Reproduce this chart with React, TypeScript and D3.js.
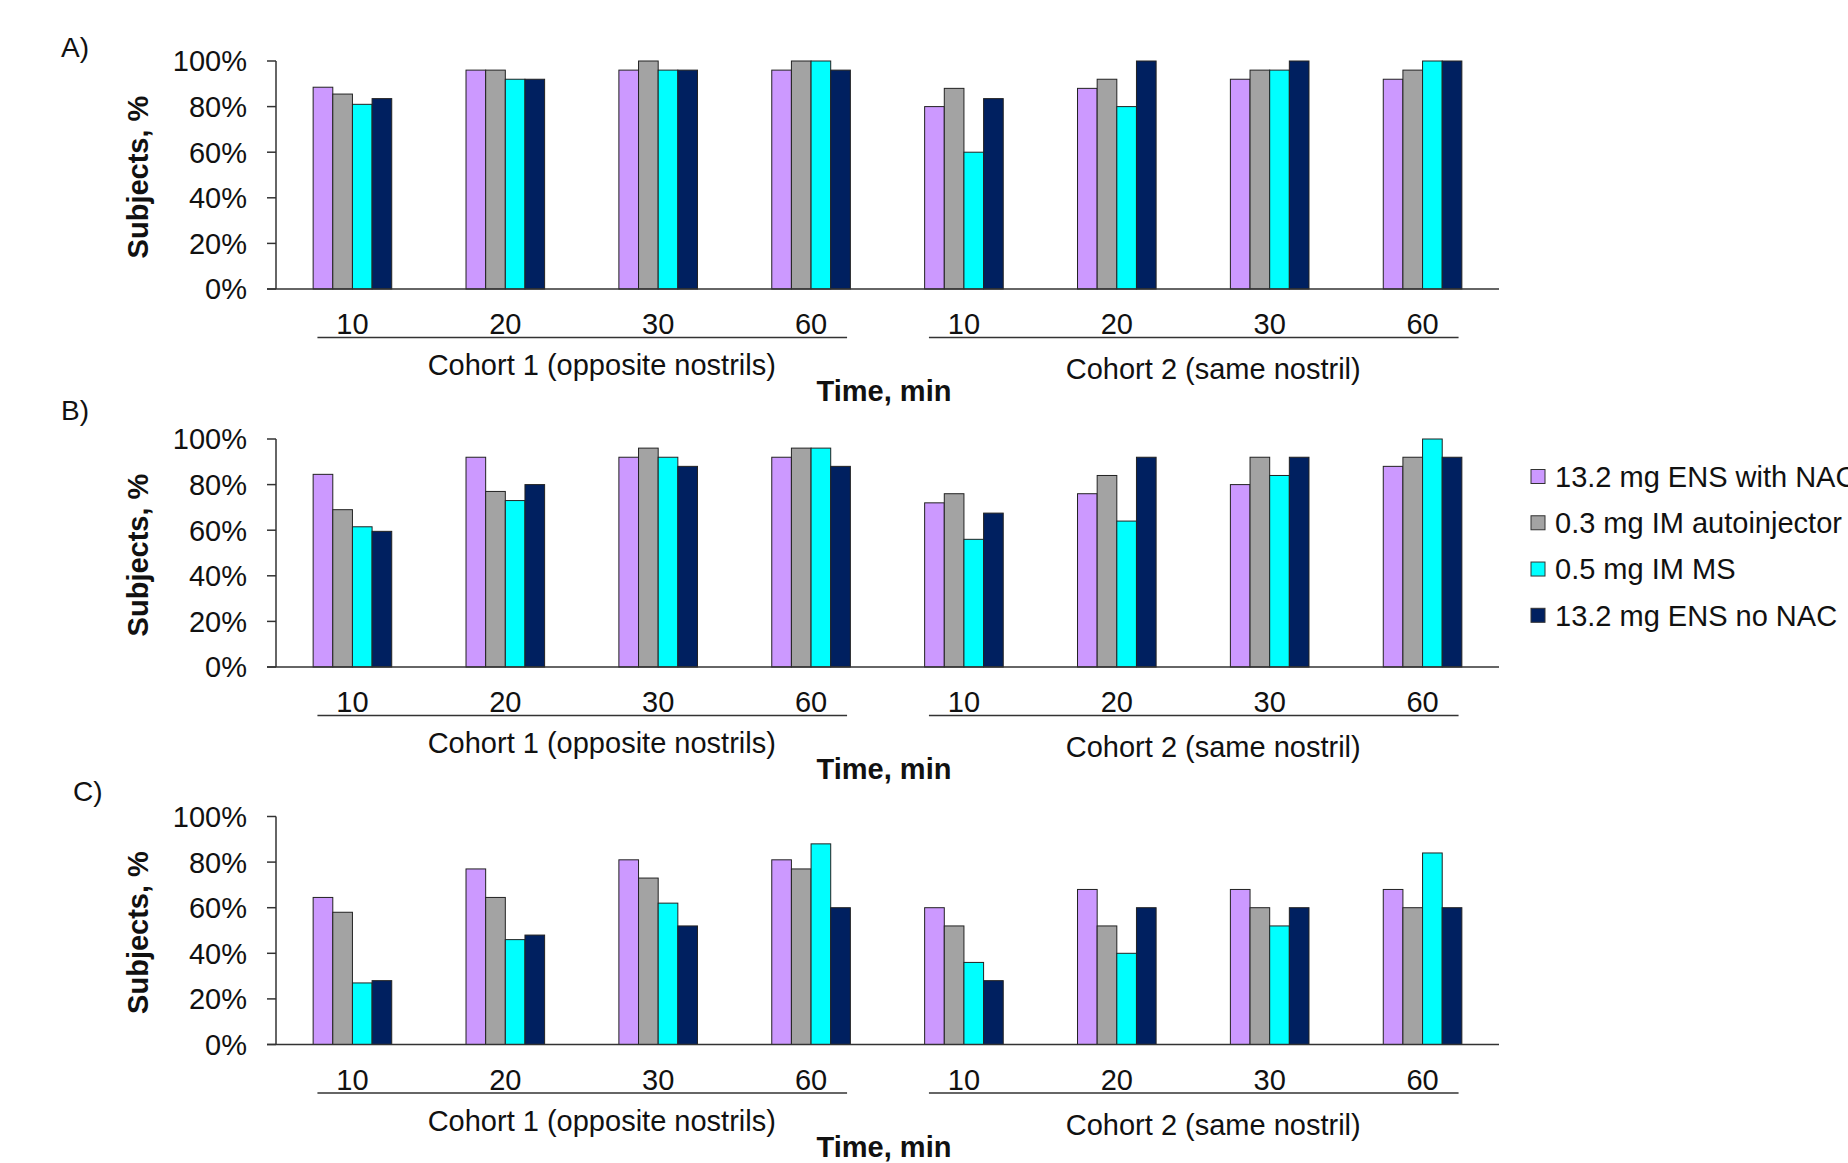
import * as d3 from "d3";

const times = ["10", "20", "30", "60"];
const cohorts = ["Cohort 1 (opposite nostrils)", "Cohort 2 (same nostril)"];
const seriesNames = [
  "13.2 mg ENS with NAC",
  "0.3 mg IM autoinjector",
  "0.5 mg IM MS",
  "13.2 mg ENS no NAC",
];
const seriesColors = ["#cc99ff", "#a3a3a3", "#00ffff", "#002060"];
const yTicks = [0, 20, 40, 60, 80, 100];
const panelLabels = ["A)", "B)", "C)"];

// values per series, 8 time points (cohort 1: 10,20,30,60 then cohort 2)
const panelA = [
  [88.5, 96, 96, 96, 80, 88, 92, 92],
  [85.5, 96, 100, 100, 88, 92, 96, 96],
  [81, 92, 96, 100, 60, 80, 96, 100],
  [83.5, 92, 96, 96, 83.5, 100, 100, 100],
];
const panelB = [
  [84.5, 92, 92, 92, 72, 76, 80, 88],
  [69, 77, 96, 96, 76, 84, 92, 92],
  [61.5, 73, 92, 96, 56, 64, 84, 100],
  [59.5, 80, 88, 88, 67.5, 92, 92, 92],
];
const panelC = [
  [64.5, 77, 81, 81, 60, 68, 68, 68],
  [58, 64.5, 73, 77, 52, 52, 60, 60],
  [27, 46, 62, 88, 36, 40, 52, 84],
  [28, 48, 52, 60, 28, 60, 60, 60],
];
const panels = [panelA, panelB, panelC];

const W = 1848;
const H = 1163;
const FONT = "'Liberation Sans', Arial, Helvetica, sans-serif";
const TEXT = "#111";
const AXIS = "#333";

const baselines = [289, 667, 1044.5];
const labelPos = [
  { x: 61, y: 57 },
  { x: 61, y: 420 },
  { x: 73, y: 801 },
];
const plotLeft = 276;
const plotRight = 1499;
const plotHeight = 228;
const groupWidth = 78.6;

const categories = cohorts.flatMap((c, ci) => times.map((t) => `${ci}-${t}`));

const x = d3.scaleBand<string>().domain(categories).range([plotLeft, plotRight]).padding(0);
const xSub = d3
  .scaleBand<string>()
  .domain(seriesNames)
  .range([-groupWidth / 2, groupWidth / 2])
  .padding(0);

const center = (cat: string) => (x(cat) ?? 0) + x.bandwidth() / 2;

const Panel = ({ data, y0, idx }: { data: number[][]; y0: number; idx: number }) => {
  const y = d3.scaleLinear().domain([0, 100]).range([y0, y0 - plotHeight]);
  return (
    <g>
      <text
        x={labelPos[idx].x}
        y={labelPos[idx].y}
        fontSize={28}
        fill={TEXT}
        fontFamily={FONT}
      >
        {panelLabels[idx]}
      </text>

      {/* y axis */}
      <line x1={plotLeft} x2={plotLeft} y1={y(100)} y2={y(0)} stroke={AXIS} strokeWidth={1.5} />
      {yTicks.map((t) => (
        <g key={t}>
          <line x1={plotLeft - 9} x2={plotLeft} y1={y(t)} y2={y(t)} stroke={AXIS} strokeWidth={1.5} />
          <text
            x={247}
            y={y(t)}
            dy="0.36em"
            textAnchor="end"
            fontSize={29}
            fill={TEXT}
            fontFamily={FONT}
          >
            {t}%
          </text>
        </g>
      ))}
      <text
        transform={`translate(138, ${y(50) + 2}) rotate(-90)`}
        textAnchor="middle"
        dominantBaseline="central"
        fontSize={29}
        fontWeight="bold"
        fill={TEXT}
        fontFamily={FONT}
      >
        Subjects, %
      </text>

      {/* bars */}
      {seriesNames.map((s, si) =>
        categories.map((cat, ci) => (
          <rect
            key={`${s}-${cat}`}
            x={center(cat) + (xSub(s) ?? 0)}
            y={y(data[si][ci])}
            width={xSub.bandwidth()}
            height={y(0) - y(data[si][ci])}
            fill={seriesColors[si]}
            stroke="#222"
            strokeWidth={1}
          />
        ))
      )}

      {/* x axis */}
      <line x1={plotLeft - 9} x2={plotRight} y1={y0} y2={y0} stroke={AXIS} strokeWidth={1.5} />
      {categories.map((cat, ci) => (
        <text
          key={cat}
          x={center(cat)}
          y={y0 + 35}
          dy="0.36em"
          textAnchor="middle"
          fontSize={29}
          fill={TEXT}
          fontFamily={FONT}
        >
          {times[ci % times.length]}
        </text>
      ))}
      {cohorts.map((c, k) => {
        const first = center(`${k}-${times[0]}`);
        const last = center(`${k}-${times[times.length - 1]}`);
        return (
          <g key={c}>
            <line
              x1={first - 35}
              x2={last + 36}
              y1={y0 + 48.5}
              y2={y0 + 48.5}
              stroke={AXIS}
              strokeWidth={1.5}
            />
            <text
              x={(first + last) / 2 + 20}
              y={y0 + (k === 0 ? 76 : 80)}
              dy="0.36em"
              textAnchor="middle"
              fontSize={29}
              fill={TEXT}
              fontFamily={FONT}
            >
              {c}
            </text>
          </g>
        );
      })}
      <text
        x={884}
        y={y0 + 102}
        dy="0.36em"
        textAnchor="middle"
        fontSize={29}
        fontWeight="bold"
        fill={TEXT}
        fontFamily={FONT}
      >
        Time, min
      </text>
    </g>
  );
};

const legendY = d3.scalePoint<string>().domain(seriesNames).range([476.5, 615.3]);

const App = () => {
  return (
    <svg
      width={W}
      height={H}
      viewBox={`0 0 ${W} ${H}`}
      style={{ position: "absolute", left: 0, top: 0, background: "#fff" }}
    >
      <rect x={0} y={0} width={W} height={H} fill="#fff" />
      {panels.map((p, i) => (
        <Panel key={i} data={p} y0={baselines[i]} idx={i} />
      ))}
      {seriesNames.map((s, i) => (
        <g key={s}>
          <rect
            x={1531}
            y={(legendY(s) ?? 0) - 7}
            width={14}
            height={14}
            fill={seriesColors[i]}
            stroke="#333"
            strokeWidth={1}
          />
          <text
            x={1555}
            y={legendY(s)}
            dy="0.36em"
            fontSize={29}
            fill={TEXT}
            fontFamily={FONT}
          >
            {s}
          </text>
        </g>
      ))}
    </svg>
  );
};

export default App;
